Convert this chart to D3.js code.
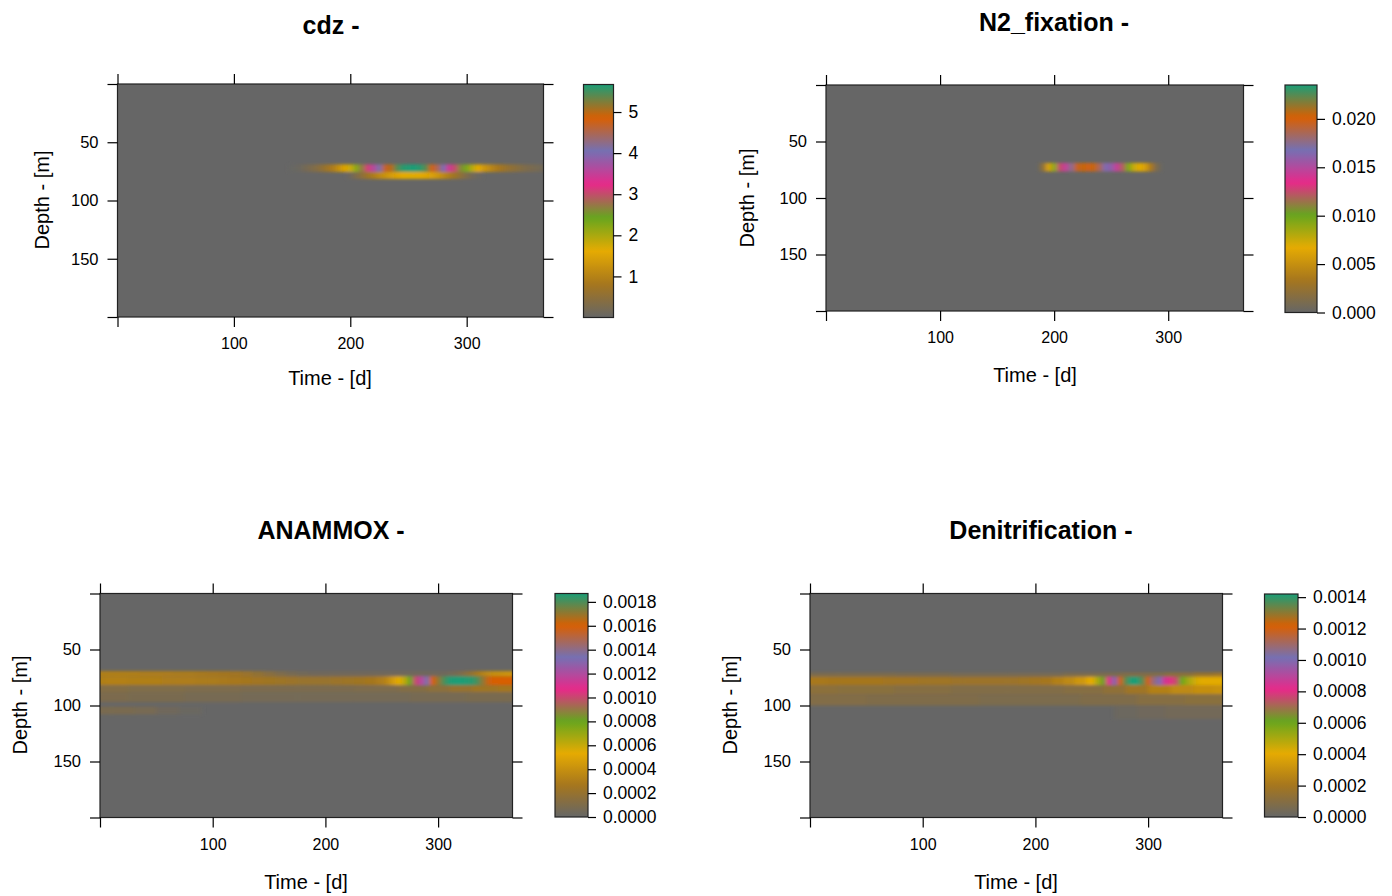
<!DOCTYPE html>
<html><head><meta charset="utf-8">
<script src="https://cdn.jsdelivr.net/npm/d3@7"></script>
<style>
body{margin:0;background:#fff}
svg text{font-family:"Liberation Sans",Arial,Helvetica,sans-serif;fill:#000}
</style>
</head><body>
<svg id="chart" width="1392" height="896"></svg>
<script>
// ---------------- DATA ----------------
const palette = ["#666666","#A6761D","#E6AB02","#66A61E","#E7298A","#7570B3","#D95F02","#1B9E77"];
const timeDomain = [0, 366];
const depthDomain = [0, 200];
const xTickValues = [0, 100, 200, 300];
const xTickLabels = ["", "100", "200", "300"];
const yTickValues = [0, 50, 100, 150, 200];
const yTickLabels = ["", "50", "100", "150", ""];

// cdz
const cdzMax = 5.67;
const cdzKeyTicks = [1, 2, 3, 4, 5];
const cdzTimesUpper = d3.range(150, 366, 5);
const cdzUpper = [0.03,0.06,0.15,0.25,0.35,0.5,0.7,0.9,1.2,1.5,1.8,2.2,2.7,3.1,3.6,4.1,4.7,5.0,5.4,5.6,5.65,5.67,5.6,5.4,4.9,4.5,4.0,3.4,3.0,2.6,2.3,1.9,1.6,1.3,1.1,0.9,0.75,0.6,0.5,0.4,0.3,0.25,0.2,0.15];
const cdzTimesLower = d3.range(200, 311, 5);
const cdzLower = [0.1,0.3,0.5,0.7,0.9,1.1,1.25,1.4,1.5,1.6,1.65,1.65,1.6,1.55,1.45,1.3,1.1,0.9,0.7,0.5,0.3,0.15,0.05];

// N2_fixation
const n2Max = 0.0235;
const n2KeyTicks = [0, 0.005, 0.010, 0.015, 0.020];
const n2Times = d3.range(190, 291, 5);
const n2Band = [0.002,0.006,0.009,0.0125,0.0145,0.0175,0.0195,0.0205,0.0198,0.0205,0.0185,0.0165,0.016,0.0145,0.012,0.0095,0.0075,0.0068,0.0058,0.0035,0.001];

// ANAMMOX
const anMax = 0.00187;
const anKeyTicks = [0,0.0002,0.0004,0.0006,0.0008,0.0010,0.0012,0.0014,0.0016,0.0018];
const anTimes = [0,10,20,30,40,50,60,70,80,90,100,110,120,130,140,150,160,170,180,190,200,210,220,230,240,250,255,260,265,270,275,280,285,290,295,300,305,310,315,320,325,330,335,340,345,350,355,360,365];
const anMain = [0.00031,0.00032,0.00032,0.00031,0.00031,0.00031,0.0003,0.0003,0.0003,0.00029,0.00029,0.00028,0.00027,
  0.00026,0.00025,0.00024,0.00023,0.00022,0.00021,0.00021,0.00021,0.00022,0.00023,0.00024,0.00026,0.0003,
  0.00036,0.00046,0.00054,0.00062,0.0008,0.001,0.00118,0.00135,0.0016,0.0017,0.0018,0.00186,0.00187,0.00187,0.00186,0.00185,0.0018,0.0017,0.00162,0.0016,0.0016,0.0016,0.0016];
const anUpper = [0.00031,0.00031,0.00031,0.00031,0.0003,0.0003,0.0003,0.00029,0.00029,0.00028,0.00027,0.00026,0.00025,
  0.00022,0.00018,0.00014,0.0001,0.00007,0.00005,0.00004,0.00004,0.00004,0.00004,0.00004,0.00004,0.00004,
  0.00004,0.00004,0.00004,0.00004,0.00004,0.00004,0.00004,0.00004,0.00004,0.00004,0.00004,0.00005,0.00007,0.0001,0.00015,0.0002,0.00028,0.00034,0.00038,0.0004,0.00041,0.00042,0.00043];
const anSubTimes = [0,50,100,150,200,250,280,300,320,340,365];
const anSub = [0.00012,0.00011,0.0001,0.00009,0.00009,0.0001,0.00012,0.00016,0.0002,0.00024,0.00026];
const anDeepTimes = [0,50,100,150,200,250,300,350,365];
const anDeep = [0.00009,0.00008,0.00007,0.00006,0.00006,0.00006,0.00007,0.00008,0.00008];
const anDeep2Times = [0,20,40,60,80];
const anDeep2 = [0.00008,0.00008,0.00007,0.00004,0.00002];

// Denitrification
const dnMax = 0.00142;
const dnKeyTicks = [0,0.0002,0.0004,0.0006,0.0008,0.0010,0.0012,0.0014];
const dnTimes = anTimes;
const dnMain = [0.00021,0.00021,0.0002,0.0002,0.0002,0.0002,0.0002,0.00019,0.00019,0.00019,0.00018,0.00018,0.00018,
  0.00017,0.00017,0.00017,0.00017,0.00017,0.00017,0.00018,0.00019,0.0002,0.00024,0.00028,0.00033,0.0004,
  0.0005,0.00062,0.0008,0.00098,0.0012,0.00135,0.00142,0.00142,0.00135,0.0012,0.00108,0.001,0.00085,0.0008,0.00075,0.0006,0.00052,0.00046,0.00042,0.00041,0.00041,0.00041,0.00041];
const dnUpperTimes = [0,50,100,150,200,250,300,330,350,365];
const dnUpper = [0.00007,0.00007,0.00006,0.00005,0.00005,0.00007,0.00009,0.00012,0.00016,0.00018];
const dnSubTimes = [0,50,100,150,200,250,270,290,310,330,350,365];
const dnSub = [0.00012,0.00011,0.0001,0.00009,0.00009,0.0001,0.00013,0.00018,0.00024,0.00028,0.0003,0.00031];
const dnDeepTimes = [0,100,200,280,300,365];
const dnDeep = [0.00009,0.00008,0.00007,0.00008,0.0001,0.00011];
const dnDeep2Times = [280,300,330,365];
const dnDeep2 = [0.00002,0.00003,0.00004,0.00004];

// ---------------- PANELS ----------------
const panels = [
  { title: "cdz -", max: cdzMax, keyTicks: cdzKeyTicks, fmt: d3.format("d"),
    bands: [
      {top: 69, bottom: 75.5, times: cdzTimesUpper, values: cdzUpper},
      {top: 75.5, bottom: 81.5, times: cdzTimesLower, values: cdzLower}
    ],
    L: {x0:117.5,x1:543.5,y0:84,y1:317, kx0:583.5,kx1:613.5,ky0:84.5,ky1:317.5,
        tx:331,ty:25, xlx:330,xly:378, ylx:42,yly:200} },
  { title: "N2_fixation -", max: n2Max, keyTicks: n2KeyTicks, fmt: d3.format(".3f"),
    bands: [ {top: 69, bottom: 76.5, times: n2Times, values: n2Band} ],
    L: {x0:826,x1:1243.5,y0:85,y1:311, kx0:1285,kx1:1317,ky0:85,ky1:312.5,
        tx:1054,ty:22, xlx:1035,xly:375, ylx:747,yly:198} },
  { title: "ANAMMOX -", max: anMax, keyTicks: anKeyTicks, fmt: d3.format(".4f"),
    bands: [
      {top: 69.3, bottom: 74, times: anTimes, values: anUpper},
      {top: 74, bottom: 82, times: anTimes, values: anMain},
      {top: 82, bottom: 88, times: anSubTimes, values: anSub},
      {top: 88, bottom: 97, times: anDeepTimes, values: anDeep},
      {top: 101, bottom: 108, times: anDeep2Times, values: anDeep2}
    ],
    L: {x0:100,x1:512.5,y0:593.5,y1:817.5, kx0:555,kx1:588,ky0:593.5,ky1:817,
        tx:331,ty:530, xlx:306,xly:882, ylx:20,yly:705} },
  { title: "Denitrification -", max: dnMax, keyTicks: dnKeyTicks, fmt: d3.format(".4f"),
    bands: [
      {top: 70.5, bottom: 74.3, times: dnUpperTimes, values: dnUpper},
      {top: 74.3, bottom: 81.7, times: dnTimes, values: dnMain},
      {top: 81.7, bottom: 90, times: dnSubTimes, values: dnSub},
      {top: 90, bottom: 100, times: dnDeepTimes, values: dnDeep},
      {top: 100, bottom: 112, times: dnDeep2Times, values: dnDeep2}
    ],
    L: {x0:810,x1:1222.5,y0:593.5,y1:817.5, kx0:1264.5,kx1:1298,ky0:594,ky1:817,
        tx:1041,ty:530, xlx:1016,xly:882, ylx:730,yly:705} }
];

// ---------------- DRAW ----------------
const svg = d3.select("#chart");
const defs = svg.append("defs");
defs.append("filter").attr("id", "soft")
  .attr("x", "-5%").attr("y", "-50%").attr("width", "110%").attr("height", "200%")
  .append("feGaussianBlur").attr("stdDeviation", "2.2 1.5");

panels.forEach((p, pi) => {
  const L = p.L;
  const x = d3.scaleLinear().domain(timeDomain).range([L.x0, L.x1]);
  const y = d3.scaleLinear().domain(depthDomain).range([L.y0, L.y1]);
  const stops = palette.map((c, i) => p.max * i / (palette.length - 1));
  const color = d3.scaleLinear().domain(stops).range(palette).interpolate(d3.interpolateRgb).clamp(true);

  const g = svg.append("g");

  // background (value 0)
  g.append("rect").attr("x", x(timeDomain[0])).attr("y", y(depthDomain[0]))
    .attr("width", x(timeDomain[1]) - x(timeDomain[0])).attr("height", y(depthDomain[1]) - y(depthDomain[0]))
    .attr("fill", color(0));

  defs.append("clipPath").attr("id", "clip" + pi).append("rect")
    .attr("x", x(timeDomain[0])).attr("y", y(depthDomain[0]))
    .attr("width", x(timeDomain[1]) - x(timeDomain[0])).attr("height", y(depthDomain[1]) - y(depthDomain[0]));

  const heat = g.append("g").attr("clip-path", `url(#clip${pi})`)
    .append("g").attr("filter", "url(#soft)");

  p.bands.forEach(b => {
    const cells = b.times.map((t, i) => {
      const prev = i > 0 ? b.times[i - 1] : null;
      const next = i < b.times.length - 1 ? b.times[i + 1] : null;
      let t0 = prev === null ? t - (next - t) / 2 : (prev + t) / 2;
      let t1 = next === null ? t + (t - prev) / 2 : (t + next) / 2;
      if (t0 <= timeDomain[0]) t0 = timeDomain[0] - 6;
      if (t1 >= timeDomain[1] - 1) t1 = timeDomain[1] + 6;
      return {t0, t1, v: b.values[i]};
    });
    heat.selectAll(null).data(cells).enter().append("rect")
      .attr("x", d => x(d.t0))
      .attr("width", d => x(d.t1) - x(d.t0) + 0.6)
      .attr("y", y(b.top))
      .attr("height", y(b.bottom) - y(b.top))
      .attr("fill", d => color(d.v));
  });

  // border
  g.append("rect").attr("x", x(timeDomain[0])).attr("y", y(depthDomain[0]))
    .attr("width", x(timeDomain[1]) - x(timeDomain[0])).attr("height", y(depthDomain[1]) - y(depthDomain[0]))
    .attr("fill", "none").attr("stroke", "#222").attr("stroke-width", 1.2);

  // axes
  const fx = (d) => xTickLabels[xTickValues.indexOf(d)];
  const fy = (d) => yTickLabels[yTickValues.indexOf(d)];
  const styleAxis = (size) => sel => {
    sel.select(".domain").remove();
    sel.selectAll(".tick line").attr("stroke", "#000").attr("stroke-width", 1.2);
    sel.selectAll(".tick text").attr("font-size", size).attr("font-family", '"Liberation Sans",Arial,sans-serif');
  };
  g.append("g").attr("transform", `translate(0,${y(depthDomain[1])})`)
    .call(d3.axisBottom(x).tickValues(xTickValues).tickFormat(fx).tickSize(10).tickPadding(11)).call(styleAxis(16));
  g.append("g").attr("transform", `translate(0,${y(depthDomain[0])})`)
    .call(d3.axisTop(x).tickValues(xTickValues).tickFormat("").tickSize(10)).call(styleAxis(16));
  g.append("g").attr("transform", `translate(${x(timeDomain[0])},0)`)
    .call(d3.axisLeft(y).tickValues(yTickValues).tickFormat(fy).tickSize(10).tickPadding(9)).call(styleAxis(16.5));
  g.append("g").attr("transform", `translate(${x(timeDomain[1])},0)`)
    .call(d3.axisRight(y).tickValues(yTickValues).tickFormat("").tickSize(10)).call(styleAxis(16));

  // colour key (gradient built from the colour scale)
  const ky = d3.scaleLinear().domain([0, p.max]).range([L.ky1, L.ky0]);
  const grad = defs.append("linearGradient").attr("id", "key" + pi)
    .attr("x1", 0).attr("y1", 1).attr("x2", 0).attr("y2", 0);
  const nLev = 60;
  grad.selectAll("stop").data(d3.range(nLev + 1)).enter().append("stop")
    .attr("offset", i => i / nLev)
    .attr("stop-color", i => color(p.max * i / nLev));
  g.append("rect").attr("x", L.kx0).attr("y", ky(p.max)).attr("width", L.kx1 - L.kx0)
    .attr("height", ky(0) - ky(p.max)).attr("fill", `url(#key${pi})`)
    .attr("stroke", "#222").attr("stroke-width", 1.2);
  g.append("g").attr("transform", `translate(${L.kx1},0)`)
    .call(d3.axisRight(ky).tickValues(p.keyTicks).tickFormat(p.fmt).tickSize(8).tickPadding(7)).call(styleAxis(17.5));

  // titles
  g.append("text").attr("x", L.tx).attr("y", L.ty).attr("text-anchor", "middle")
    .attr("dominant-baseline", "central").attr("font-size", 25).attr("font-weight", "bold").text(p.title);
  g.append("text").attr("x", L.xlx).attr("y", L.xly).attr("text-anchor", "middle")
    .attr("dominant-baseline", "central").attr("font-size", 20).text("Time - [d]");
  g.append("text").attr("transform", `translate(${L.ylx},${L.yly}) rotate(-90)`).attr("text-anchor", "middle")
    .attr("dominant-baseline", "central").attr("font-size", 20).text("Depth - [m]");
});
</script>
</body></html>
